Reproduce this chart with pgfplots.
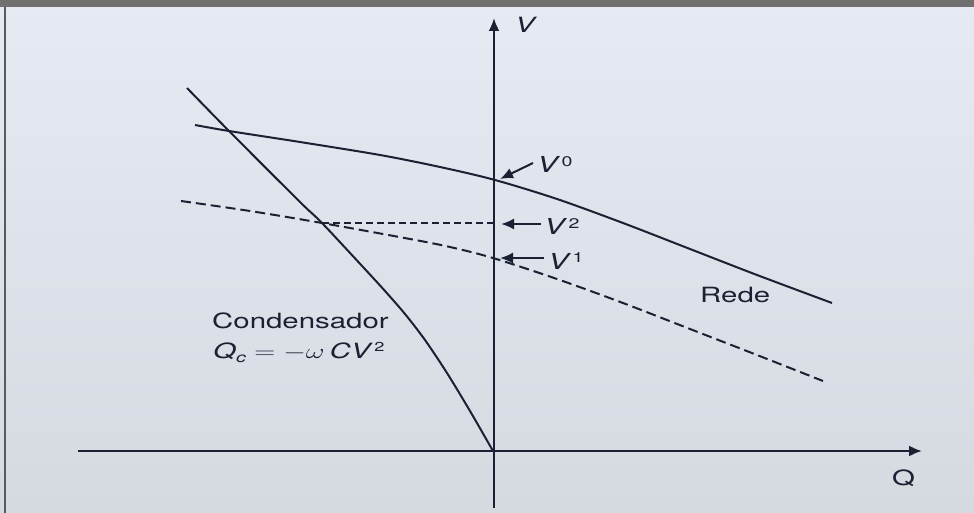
\documentclass[border=0pt]{standalone}
\usepackage{pgfplots}
\pgfplotsset{compat=1.18}
\usepackage{fontspec}
\setmainfont{TeX Gyre Heros}
\usetikzlibrary{arrows.meta}
\definecolor{ink}{HTML}{1B2033}
\definecolor{paperTop}{HTML}{E6EAF3}
\definecolor{paperBot}{HTML}{D5D9E0}
\definecolor{frame}{HTML}{707070}
\newcommand{\sz}[1]{\fontsize{#1}{#1}\selectfont}
% wide lettering of the printed figure
\newcommand{\wide}[1]{\scalebox{1.4}[1]{#1}}
\newcommand{\Vsup}[1]{\textit{V}\hspace{1pt}\raisebox{6pt}{\sz{14}#1}}
\begin{document}
\begin{tikzpicture}
\begin{axis}[
  width=974pt, height=513pt, scale only axis,
  xmin=0, xmax=974, ymin=0, ymax=513, y dir=reverse,
  axis line style={draw=none}, ticks=none,
  axis background/.style={top color=paperTop, bottom color=paperBot},
]
% page edges
\fill[frame] (0,0) rectangle (974,7);
\draw[frame!80!black, line width=1.4pt] (5,7) -- (5,513);

% axes
\draw[ink, line width=2.2pt, -{Latex[length=13pt,width=11pt]}] (494,508) -- (494,18);
\draw[ink, line width=2.2pt, -{Latex[length=13pt,width=11pt]}] (78,451) -- (922,451);
\node[anchor=base west, inner sep=0, text=ink] at (515,33) {\wide{\sz{21}\textit{V}}};
\node[anchor=base west, inner sep=0, text=ink] at (892,485) {\wide{\sz{21}Q}};

% network characteristic, initial voltage
\addplot[ink, line width=2pt, smooth, tension=0.5] coordinates {
  (195,125) (229,131) (300,142) (380,155) (440,167) (495,180)
  (557,199) (623,223) (690,249) (757,275) (832,303)};

% network characteristic after disturbance
\addplot[ink, line width=2pt, smooth, tension=0.5,
  dash pattern=on 10pt off 5pt] coordinates {
  (181,201) (250,211) (322,223) (410,239) (450,247) (493,258)
  (557,279) (623,303) (690,329) (757,355) (823,381)};

% capacitor characteristic Q_c = -wCV^2
\addplot[ink, line width=2pt, smooth, tension=0.5] coordinates {
  (187,88) (229,131) (300,202) (322,223) (363,267) (385,291)
  (405,314) (425,340) (447,373) (470,411) (493,451)};

% operating voltage with the capacitor
\addplot[ink, line width=1.6pt, dash pattern=on 7pt off 4pt] coordinates {
  (322,223) (494,223)};

% voltage markers
\draw[ink, line width=2pt, -{Latex[length=13pt,width=11pt]}] (533,163) -- (500,179);
\draw[ink, line width=2pt, -{Latex[length=13pt,width=11pt]}] (541,224) -- (501,224);
\draw[ink, line width=2pt, -{Latex[length=13pt,width=11pt]}] (544,258) -- (500,258);
\node[anchor=base west, inner sep=0, text=ink] at (537,173) {\wide{\sz{22}\Vsup{0}}};
\node[anchor=base west, inner sep=0, text=ink] at (544,234) {\wide{\sz{22}\Vsup{2}}};
\node[anchor=base west, inner sep=0, text=ink] at (548,269) {\wide{\sz{22}\Vsup{1}}};

% curve names
\node[anchor=base west, inner sep=0, text=ink] at (700,302) {\wide{\sz{21}Rede}};
\node[anchor=base west, inner sep=0, text=ink] at (212,328) {\wide{\sz{21}Condensador}};
\node[anchor=base west, inner sep=0, text=ink] at (213,358)
  {\wide{\sz{21}\textit{Q}\raisebox{-4pt}{\sz{14}\textit{c}}\hspace{6pt}$=-\omega$\,\textit{CV}\hspace{1pt}\raisebox{7pt}{\sz{13}2}}};
\end{axis}
\end{tikzpicture}
\end{document}
